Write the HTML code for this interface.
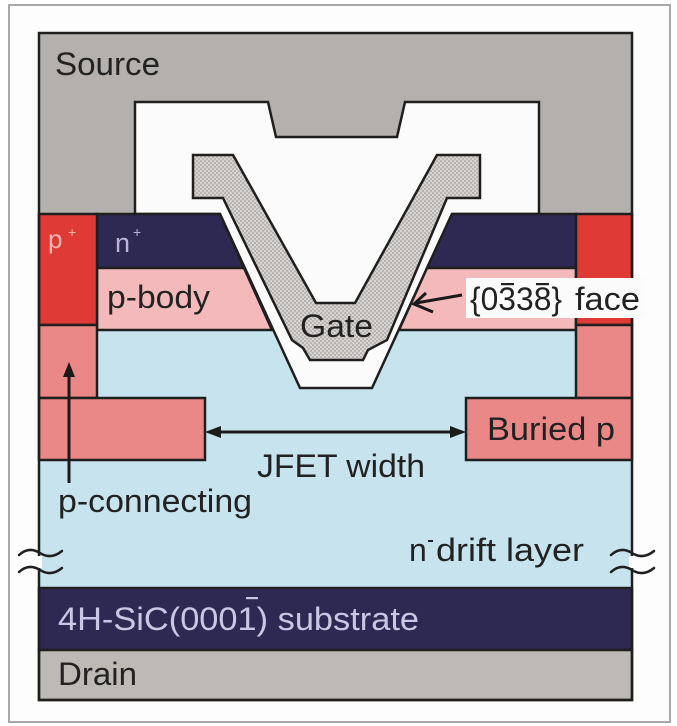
<!DOCTYPE html>
<html>
<head>
<meta charset="utf-8">
<style>
  html,body{margin:0;padding:0;background:#ffffff;}
  svg{display:block;}
  text{font-family:"Liberation Sans","DejaVu Sans",sans-serif;}
</style>
</head>
<body>
<svg width="677" height="726" viewBox="0 0 677 726" xmlns="http://www.w3.org/2000/svg">
  <defs>
    <pattern id="h" width="4" height="4" patternUnits="userSpaceOnUse">
      <rect width="4" height="4" fill="#d6d3d1"/>
      <rect width="2" height="2" fill="#b8b4b2"/>
      <rect x="2" y="2" width="2" height="2" fill="#b8b4b2"/>
    </pattern>
  </defs>

  <!-- background & outer frame -->
  <rect x="0" y="0" width="677" height="726" fill="#ffffff"/>
  <rect x="9" y="5" width="661" height="717" fill="#fdfdfd" stroke="#a8a8a8" stroke-width="2"/>

  <g stroke="#1f1f1f" stroke-width="2.5" stroke-linejoin="miter">
    <!-- drift layer (whole device body) -->
    <rect x="39" y="33" width="593" height="667" fill="#c7e3ee" stroke="none"/>
    <!-- source metal -->
    <rect x="39" y="33" width="593" height="181" fill="#b3b0ad" stroke="none"/>

    <!-- oxide / insulator (white) incl. trench -->
    <polygon points="135,214 135,102 268,102 276,137 397,137 405,102 539,102 539,214 452,214 372,388 300,388 220,214"
             fill="#fbfbfb"/>

    <!-- n+ -->
    <polygon points="97,214 220,214 244,268 97,268" fill="#2e2952"/>
    <polygon points="452,214 576,214 576,268 427,268" fill="#2e2952"/>
    <!-- p-body -->
    <polygon points="97,268 244,268 272,330 97,330" fill="#f4babb"/>
    <polygon points="427,268 576,268 576,330 399,330" fill="#f4babb"/>
    <!-- p+ -->
    <rect x="39" y="214" width="58" height="111" fill="#e03a36"/>
    <rect x="576" y="214" width="56" height="111" fill="#e03a36"/>
    <!-- p-connecting -->
    <rect x="39" y="325" width="58" height="73" fill="#ea8787"/>
    <rect x="576" y="325" width="56" height="73" fill="#ea8787"/>
    <!-- buried p -->
    <rect x="39" y="398" width="166" height="62" fill="#ea8787"/>
    <rect x="466" y="398" width="166" height="62" fill="#ea8787"/>
    <!-- substrate & drain -->
    <rect x="39" y="588" width="593" height="62" fill="#2e2952"/>
    <rect x="39" y="650" width="593" height="50" fill="#bdb9b5"/>

    <!-- gate -->
    <polygon points="193,155 233,155 316,303 355,303 437,155 480,155 480,198 447,198 387,340 368,350 363,360 310,360 303,348 292,340 223,198 193,198"
             fill="url(#h)"/>

    <!-- device outline -->
    <rect x="39" y="33" width="593" height="667" fill="none"/>
  </g>

  <!-- break symbols -->
  <rect x="35" y="556" width="7" height="12" fill="#fdfdfd"/>
  <rect x="629" y="556" width="7" height="12" fill="#fdfdfd"/>
  <g fill="none" stroke="#1f1f1f" stroke-width="2.5" stroke-linecap="round">
    <path d="M19 555 Q 29 546 40 553 T 62 551"/>
    <path d="M19 572 Q 29 563 40 570 T 62 568"/>
    <path d="M611 555 Q 621 546 632 553 T 654 551"/>
    <path d="M611 572 Q 621 563 632 570 T 654 568"/>
  </g>

  <!-- face label box -->
  <rect x="466" y="278" width="178" height="40" fill="#fbfbfb"/>

  <!-- arrows -->
  <g stroke="#1a1a1a" stroke-width="3" fill="none">
    <line x1="215" y1="432" x2="456" y2="432"/>
    <line x1="69" y1="483" x2="69" y2="372"/>
    <line x1="462" y1="295" x2="416" y2="303"/>
    <polyline points="426,293 414,304 433,312"/>
  </g>
  <g fill="#1a1a1a">
    <polygon points="205,432 221,426 221,438"/>
    <polygon points="466,432 450,426 450,438"/>
    <polygon points="69,362 63,377 75,377"/>
  </g>

  <!-- labels -->
  <g font-size="32" fill="#222">
    <text x="55" y="75" textLength="105" lengthAdjust="spacingAndGlyphs">Source</text>
    <text x="107" y="308" textLength="103" lengthAdjust="spacingAndGlyphs">p-body</text>
    <text x="300" y="337" textLength="73" lengthAdjust="spacingAndGlyphs">Gate</text>
    <text x="487" y="440" textLength="128" lengthAdjust="spacingAndGlyphs">Buried p</text>
    <text x="257" y="477" textLength="168" lengthAdjust="spacingAndGlyphs">JFET width</text>
    <text x="58" y="512" textLength="194" lengthAdjust="spacingAndGlyphs">p-connecting</text>
    <text x="409" y="561">n</text>
    <text x="436" y="561" textLength="148" lengthAdjust="spacingAndGlyphs">drift layer</text>
    <text x="58" y="685" textLength="79" lengthAdjust="spacingAndGlyphs">Drain</text>
    <text x="470" y="310" textLength="92" lengthAdjust="spacingAndGlyphs">{0338}</text>
    <text x="575" y="310" textLength="65" lengthAdjust="spacingAndGlyphs">face</text>
  </g>
  <!-- n- superscript minus -->
  <rect x="428" y="540" width="5" height="2" fill="#222"/>
  <!-- overbars on face indices -->
  <rect x="501" y="283" width="13" height="2.2" fill="#222"/>
  <rect x="536" y="283" width="13" height="2.2" fill="#222"/>

  <!-- substrate label -->
  <text x="58" y="630" font-size="32" fill="#cbc6e4" textLength="361" lengthAdjust="spacingAndGlyphs">4H-SiC(0001) substrate</text>
  <rect x="246" y="597" width="12" height="2.2" fill="#cbc6e4"/>

  <!-- p+ / n+ labels -->
  <text x="48" y="248" font-size="26" fill="#f4b6ae">p</text>
  <text x="68" y="237" font-size="14" fill="#f4b6ae">+</text>
  <text x="115" y="252" font-size="27" fill="#bdb5d8">n</text>
  <text x="133" y="237" font-size="14" fill="#bdb5d8">+</text>
</svg>
</body>
</html>
